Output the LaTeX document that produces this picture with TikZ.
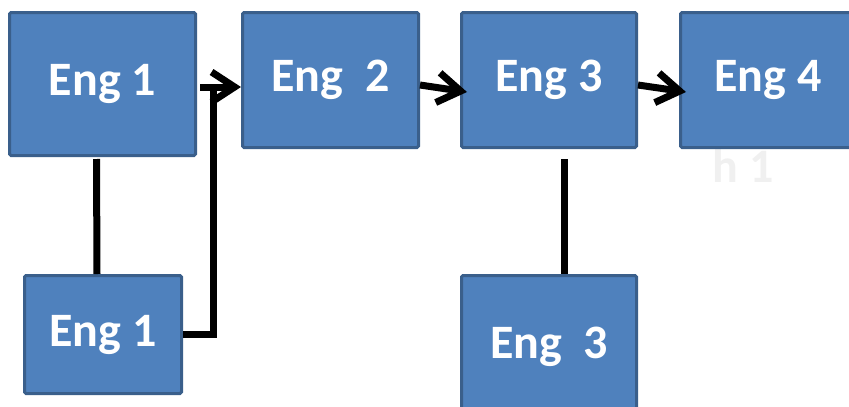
\documentclass[tikz,border=0pt]{standalone}
\usepackage{fontspec}
\setmainfont{Carlito}
\usetikzlibrary{arrows.meta}
\definecolor{engfill}{HTML}{4F81BD}
\definecolor{engline}{HTML}{3A5F8B}
\tikzset{
  eng/.style={draw=engline, line width=3pt, fill=engfill, text=white, rounded corners=1.5pt,
    inner sep=0pt, font=\fontsize{48}{58}\selectfont\bfseries},
  link/.style={line width=7pt},
  arr/.style={line width=7pt, -{Straight Barb[length=23pt 0,width=30pt 0]}}
}
\begin{document}
\begin{tikzpicture}[x=1pt,y=-1pt]
\useasboundingbox (0,0) rectangle (849,407);
% faint text behind the last box
\node (hone) at (743,182)[anchor=base, text=black!6, inner sep=0pt, font=\fontsize{48}{58}\selectfont\bfseries]{h 1};
% top row
\node (E1t) at (102.5,84)[eng, minimum width=186pt, minimum height=143pt]{Eng 1};
\node (E2) at (330.5,80)[eng, minimum width=176pt, minimum height=135pt]{Eng\ \ 2};
\node (E3) at (549,80)[eng, minimum width=175pt, minimum height=135pt]{Eng 3};
\node (E4) at (768,80)[eng, minimum width=175pt, minimum height=135pt]{Eng 4};
% bottom row
\node (E1b) at (103,334.5)[eng, minimum width=157pt, minimum height=118pt]{Eng 1};
\node (E3b) at (549,342.5)[eng, minimum width=175pt, minimum height=134pt, text depth=0pt]{Eng\ \ 3};
% connectors
\coordinate (j) at (213,87);
\draw[link] ([xshift=-6pt,yshift=-2pt]E1t.south) -- ([xshift=-6pt]E1b.north);
\draw[link] ([xshift=15pt,yshift=-10pt]E3.south) -- ([xshift=15pt]E3b.north);
\draw[link] (E1b.east) -| (j);
\draw[arr] ([xshift=3pt,yshift=-3pt]E1t.east) -- ([yshift=-7pt]E2.west);
\draw[arr] ([yshift=-5pt]E2.east) -- ([xshift=7pt,yshift=-12pt]E3.west);
\draw[arr] ([yshift=-5pt]E3.east) -- ([xshift=7pt,yshift=-12pt]E4.west);
\end{tikzpicture}
\end{document}
